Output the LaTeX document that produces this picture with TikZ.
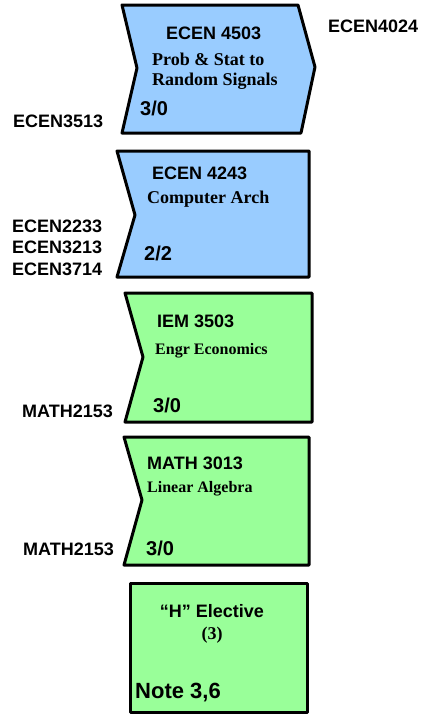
\documentclass[tikz,border=0pt]{standalone}
\usepackage{fontspec}
\setmainfont{Liberation Sans}
\newfontfamily\timesfont{Liberation Serif}
\usepackage{tikz}
\definecolor{coursblue}{HTML}{99CCFF}
\definecolor{coursgreen}{HTML}{99FF99}

\begin{document}
\begin{tikzpicture}[x=1pt,y=-1pt,
  box/.style={line width=3pt,line join=round},
  txt/.style={inner sep=0pt,anchor=base west,font=\bfseries\fontsize{18}{20}\selectfont},
  sub/.style={txt,font=\timesfont\bfseries\fontsize{18}{20}\selectfont},
  small/.style={txt,font=\timesfont\bfseries\fontsize{16}{18}\selectfont},
  hrs/.style={txt,font=\bfseries\fontsize{20}{22}\selectfont}]
\useasboundingbox (0,0) rectangle (423,715);
\filldraw[box,fill=coursblue] (122,5) -- (298,5) -- (315,67) -- (301,133) -- (122,133) -- (137,68) -- cycle;
\node[txt] (n4503) at (166,39) {ECEN 4503};
\node[sub] (t4503a) at (152,65) {Prob \& Stat to};
\node[sub] (t4503b) at (152,85) {Random Signals};
\node[hrs] (h4503) at (140,115) {3/0};
\node[txt] (post4503) at (328,32) {ECEN4024};
\node[txt] (pre4503) at (13,127) {ECEN3513};

\filldraw[box,fill=coursblue] (117,151) -- (309,151) -- (309,277) -- (117,277) -- (135,215) -- cycle;
\node[txt] (n4243) at (152,179) {ECEN 4243};
\node[sub] (t4243) at (147,203) {Computer Arch};
\node[hrs] (h4243) at (144,260) {2/2};
\node[txt] (pre4243a) at (12,232) {ECEN2233};
\node[txt] (pre4243b) at (12,253) {ECEN3213};
\node[txt] (pre4243c) at (12,275) {ECEN3714};

\filldraw[box,fill=coursgreen] (125,293) -- (312,293) -- (312,422) -- (125,422) -- (143,357) -- cycle;
\node[txt] (n3503) at (157,327) {IEM 3503};
\node[small] (t3503) at (155,354) {Engr Economics};
\node[hrs] (h3503) at (153,412) {3/0};
\node[txt] (pre3503) at (22,417) {MATH2153};

\filldraw[box,fill=coursgreen] (124,437) -- (309,437) -- (309,565) -- (124,565) -- (142,500) -- cycle;
\node[txt] (n3013) at (147,469) {MATH 3013};
\node[small] (t3013) at (147,492) {Linear Algebra};
\node[hrs] (h3013) at (146,555) {3/0};
\node[txt] (pre3013) at (23,555) {MATH2153};

\filldraw[box,fill=coursgreen] (130,583) rectangle (307,712);
\node[txt,anchor=base] (nelec) at (212,617) {“H” Elective};
\node[sub,anchor=base] (telec) at (212,639) {(3)};
\node[txt,font=\bfseries\fontsize{22}{24}\selectfont] (helec) at (135,698) {Note 3,6};
\end{tikzpicture}
\end{document}
